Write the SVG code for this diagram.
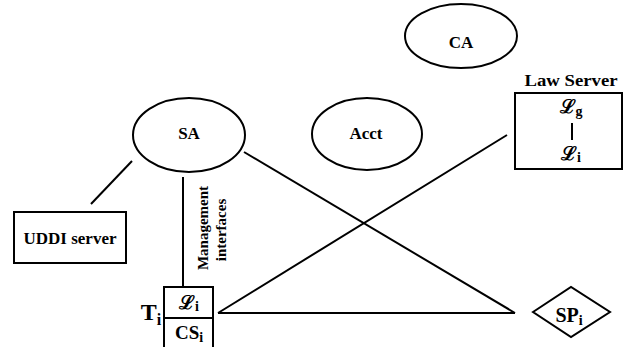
<svg xmlns="http://www.w3.org/2000/svg" width="624" height="347" viewBox="0 0 624 347">
<style>
.s{fill:none;stroke:#000;stroke-width:2}
.t{font-weight:bold;fill:#000;text-anchor:middle}
.l{font-weight:bold;fill:#000;text-anchor:middle}
</style>
<rect width="624" height="347" fill="#fff"/>
<g id="connectors" class="s">
<line x1="132" y1="161" x2="91" y2="204"/>
<line x1="183" y1="177" x2="183" y2="287"/>
<line x1="244" y1="152" x2="515" y2="313"/>
<line x1="218" y1="313" x2="515" y2="313"/>
<line x1="218" y1="313" x2="507" y2="135"/>
</g>
<g font-family="'Liberation Serif', 'Times New Roman', 'DejaVu Serif', serif">
<g id="CA">
<ellipse class="s" cx="461" cy="36" rx="56" ry="32"/>
<text class="t" x="461" y="48" font-size="17">CA</text>
</g>
<g id="SA">
<ellipse class="s" cx="189" cy="135" rx="56" ry="37"/>
<text class="t" x="189" y="139" font-size="17">SA</text>
</g>
<g id="Acct">
<ellipse class="s" cx="367" cy="134" rx="55" ry="36"/>
<text class="t" x="366" y="139" font-size="17">Acct</text>
</g>
<g id="LawServer">
<text class="t" x="571" y="86" font-size="17" textLength="93" lengthAdjust="spacingAndGlyphs">Law Server</text>
<rect class="s" x="515" y="93" width="107" height="76"/>
<text class="l" x="571" y="113" font-size="19" font-family="'DejaVu Serif', serif">ℒ<tspan font-size="14" font-family="'Liberation Serif', serif" dy="3">g</tspan></text>
<line class="s" x1="572" y1="123" x2="572" y2="140"/>
<text class="l" x="571" y="160" font-size="19" font-family="'DejaVu Serif', serif">ℒ<tspan font-size="14" font-family="'Liberation Serif', serif" dy="2">i</tspan></text>
</g>
<g id="UDDI">
<rect class="s" x="14" y="212" width="112" height="51"/>
<text class="t" x="70" y="244" font-size="17">UDDI server</text>
</g>
<g id="mgmt-label">
<text class="t" font-size="15" transform="translate(208,228) rotate(-90)">Management</text>
<text class="t" font-size="15" transform="translate(226,230) rotate(-90)">interfaces</text>
</g>
<g id="Ti">
<text class="t" x="151" y="320" font-size="24">T<tspan font-size="16" dy="5">i</tspan></text>
<rect class="s" x="164" y="287" width="49" height="62"/>
<line class="s" x1="164" y1="318" x2="213" y2="318"/>
<text class="l" x="189" y="309" font-size="19" font-family="'DejaVu Serif', serif">ℒ<tspan font-size="14" font-family="'Liberation Serif', serif" dy="2">i</tspan></text>
<text class="t" x="189" y="339" font-size="19">CS<tspan font-size="14" dy="3">i</tspan></text>
</g>
<g id="SPi">
<polygon class="s" points="533,312 571,287 610,312 571,337"/>
<text class="t" x="569" y="322" font-size="20">SP<tspan font-size="14" dy="3">i</tspan></text>
</g>
</g>
</svg>
